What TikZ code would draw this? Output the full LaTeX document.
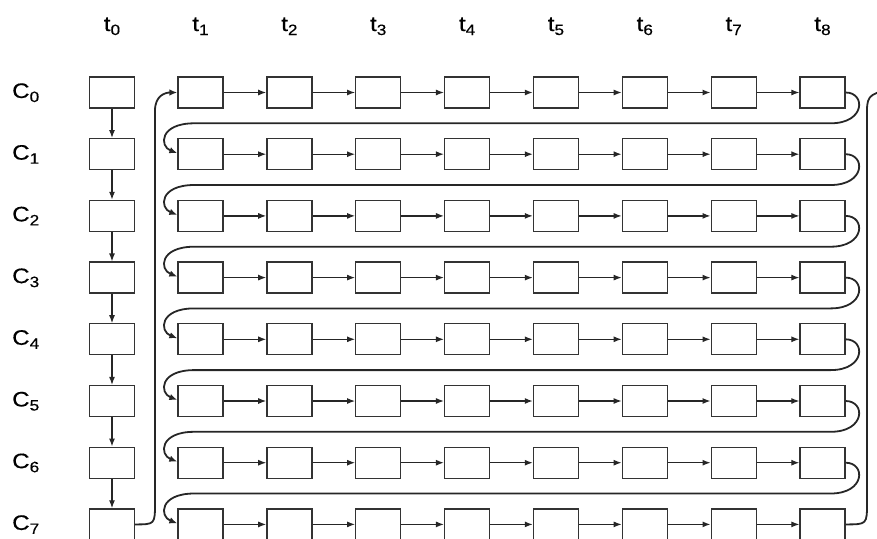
\documentclass[tikz,border=0pt]{standalone}
\usepackage{fontspec}
\newfontfamily\lblfont[FakeStretch=1.15,FakeBold=0.4]{Liberation Sans}
\usetikzlibrary{arrows.meta,calc}
\newcommand\lblsub[1]{\raisebox{-4pt}{\fontsize{15}{15}\selectfont #1}}
\begin{document}
\begin{tikzpicture}[x=1pt,y=-1pt,
  cell/.style={draw=black!80,line width=1.3pt,minimum width=45pt,minimum height=31pt,inner sep=0pt,fill=white},
  link/.style={draw=black!85,line width=1.2pt,-{Latex[length=8pt,width=6pt]}},
  snake/.style={draw=black!85,line width=1.8pt,-{Latex[length=8pt,width=6.5pt]}},
  bigline/.style={draw=black!85,line width=1.8pt},
  lbl/.style={font=\lblfont\fontsize{21}{21}\selectfont,inner sep=0pt}]
\useasboundingbox (0,0) rectangle (877,538);
\clip (0,0) rectangle (877,538);
% column labels
\node[lbl,anchor=base] (t0) at (112,31) {t\lblsub{0}};
\foreach \c in {1,...,8}{
  \pgfmathsetmacro\xx{200.5+88.86*(\c-1)}
  \node[lbl,anchor=base] (t\c) at (\xx,31) {t\lblsub{\c}};
}
% cells and row labels
\foreach \r in {0,...,7}{
  \pgfmathsetmacro\yy{92.5+61.7*\r}
  \node[lbl,anchor=base west] (C\r) at (12,\yy+5.5) {C\lblsub{\r}};
  \node[cell] (b\r-0) at (112,\yy) {};
  \foreach \c in {1,...,8}{
    \pgfmathsetmacro\xx{200.5+88.86*(\c-1)}
    \node[cell] (b\r-\c) at (\xx,\yy) {};
  }
  \coordinate (m\r) at (0,\yy+30.8);
}
\coordinate (lv) at (155,0);
\coordinate (rv) at (867,0);
% horizontal links
\foreach \r in {0,...,7}{
  \foreach \c [evaluate=\c as \n using int(\c+1)] in {1,...,7}{
    \draw[link] (b\r-\c.east) -- (b\r-\n.west);
  }
}
% vertical links in t0 column
\foreach \r [evaluate=\r as \n using int(\r+1)] in {0,...,6}{
  \draw[link] (b\r-0.south) -- (b\n-0.north);
}
% serpentine returns
\foreach \r [evaluate=\r as \n using int(\r+1)] in {0,...,6}{
  \draw[snake] (b\r-8.east)
    .. controls ($(b\r-8.east)+(20,0)$) and ($(b\r-8.east |- m\r)+(20,0)$) ..
    ($(b\r-8.east |- m\r)+(-15,0)$)
    -- ($(b\n-1.west |- m\r)+(17,0)$)
    .. controls ($(b\n-1.west |- m\r)+(-18,0)$) and ($(b\n-1.west)+(-18,-8)$) ..
    ([yshift=1pt]b\n-1.west);
}
% big left path from C7/t0 to C0/t1
\draw[snake] (b7-0.east)
  .. controls (b7-0.east -| lv) .. ($(b7-0.east -| lv)+(0,-22)$)
  -- ($(b0-1.west -| lv)+(0,18)$)
  .. controls ($(b0-1.west -| lv)+(0,3)$) and ($(b0-1.west)+(-12,0)$) ..
  (b0-1.west);
% big right path leaving the frame
\coordinate (out) at (900,88);
\draw[bigline] (b7-8.east)
  .. controls (b7-8.east -| rv) .. ($(b7-8.east -| rv)+(0,-22)$)
  -- ($(b0-8.east -| rv)+(0,18)$)
  .. controls ($(b0-8.east -| rv)+(0,2)$) and ($(b0-8.east -| rv)+(4,0)$) ..
  (out);
\end{tikzpicture}
\end{document}
